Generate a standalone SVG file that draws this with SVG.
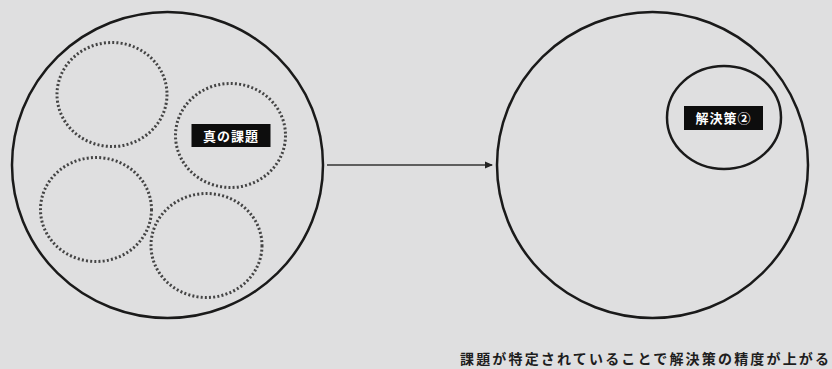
<svg xmlns="http://www.w3.org/2000/svg" width="832" height="369" viewBox="0 0 832 369">
<style>
.big{fill:none;stroke:#1a1a1a;stroke-width:2.5}
.dot{fill:none;stroke:#444;stroke-width:3;stroke-dasharray:2 2.2;stroke-linecap:butt}
.lbl{fill:#0d0d0d}
.lt{fill:#fff;font-family:"Noto Sans CJK JP","Noto Sans",sans-serif;font-weight:bold;font-size:13px;letter-spacing:1px}
.cap{fill:#1e1e1e;font-family:"Noto Sans CJK JP","Noto Sans",sans-serif;font-weight:bold;font-size:14px}
</style>
<defs>
<marker id="ah" markerWidth="8" markerHeight="8" refX="7" refY="4" orient="auto" markerUnits="userSpaceOnUse">
<path d="M0,0.5 L8,4 L0,7.5 Z" fill="#222"/>
</marker>
</defs>
<rect width="832" height="369" fill="#dfdfe0"/>
<g id="left">
<ellipse class="big" cx="167.5" cy="165" rx="155.5" ry="153"/>
<ellipse id="c1" class="dot" cx="112" cy="94.5" rx="55" ry="52"/>
<ellipse id="c2" class="dot" cx="230.5" cy="135.5" rx="55" ry="52"/>
<ellipse id="c3" class="dot" cx="96" cy="209.5" rx="55.5" ry="52"/>
<ellipse id="c4" class="dot" cx="206.5" cy="245.5" rx="55.5" ry="52"/>
<g id="label1">
<rect class="lbl" x="191.5" y="124" width="79" height="23"/>
<text class="lt" x="231" y="140.5" text-anchor="middle">真の課題</text>
</g>
</g>
<g id="right">
<ellipse class="big" cx="652.5" cy="165" rx="155.5" ry="153"/>
<ellipse class="big" cx="724" cy="117.5" rx="57" ry="51.5"/>
<g id="label2">
<rect class="lbl" x="684" y="106" width="79" height="24"/>
<text class="lt" x="723.5" y="122.5" text-anchor="middle">解決策②</text>
</g>
</g>
<g id="connectors">
<line x1="327" y1="165" x2="492" y2="165" stroke="#333" stroke-width="1.6" marker-end="url(#ah)"/>
</g>
<text class="cap" x="460" y="364" textLength="369" lengthAdjust="spacing">課題が特定されていることで解決策の精度が上がる</text>
</svg>
